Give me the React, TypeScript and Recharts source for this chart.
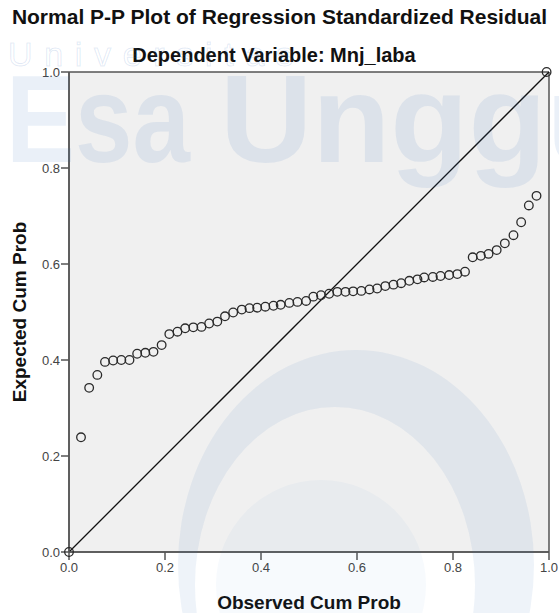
import { ScatterChart, Scatter, XAxis, YAxis, CartesianGrid, ReferenceLine, Label } from 'recharts'

// Observed / expected cumulative probabilities
const observedCumProb = [
  0, 0.025, 0.042, 0.059, 0.075, 0.092, 0.109, 0.126, 0.142, 0.159,
  0.176, 0.193, 0.209, 0.226, 0.242, 0.259, 0.276, 0.292, 0.309, 0.325,
  0.342, 0.36, 0.376, 0.392, 0.409, 0.426, 0.441, 0.459, 0.476, 0.494,
  0.509, 0.525, 0.542, 0.559, 0.576, 0.592, 0.609, 0.626, 0.642, 0.659,
  0.676, 0.692, 0.709, 0.726, 0.74, 0.758, 0.774, 0.792, 0.809, 0.825,
  0.841, 0.858, 0.874, 0.891, 0.908, 0.926, 0.942, 0.958, 0.974, 0.995,
]
const expectedCumProb = [
  0, 0.239, 0.342, 0.369, 0.396, 0.399, 0.4, 0.4, 0.413, 0.415,
  0.417, 0.431, 0.454, 0.459, 0.466, 0.468, 0.469, 0.476, 0.48, 0.491,
  0.499, 0.505, 0.508, 0.509, 0.511, 0.513, 0.515, 0.519, 0.521, 0.523,
  0.532, 0.535, 0.538, 0.542, 0.542, 0.543, 0.544, 0.547, 0.549, 0.554,
  0.557, 0.56, 0.565, 0.568, 0.572, 0.573, 0.575, 0.577, 0.579, 0.584,
  0.614, 0.617, 0.621, 0.629, 0.643, 0.66, 0.687, 0.722, 0.742, 1.0,
]
const axisTicks = [0, 0.2, 0.4, 0.6, 0.8, 1.0]
const edgeValues = [0, 1]

const chartTitle = 'Normal P-P Plot of Regression Standardized Residual'
const chartSubtitle = 'Dependent Variable: Mnj_laba'
const xTitle = 'Observed Cum Prob'
const yTitle = 'Expected Cum Prob'

const points = observedCumProb.map((x, i) => ({ x, y: expectedCumProb[i] }))

const FONT = '"Liberation Sans", Arial, sans-serif'
const tickStyle = { fontSize: 13, fill: '#444', fontFamily: FONT }

// hollow SPSS-style marker
const HollowDot = (props: any) => (
  <circle cx={props.cx} cy={props.cy} r={4.3} fill="none" stroke="#2a2a2a" strokeWidth={1.3} />
)

// faint university watermark drawn on top of the picture
function Watermark() {
  const blue = '#3f78c0'
  return (
    <svg width={559} height={613} style={{ position: 'absolute', left: 0, top: 0, pointerEvents: 'none' }}>
      <text x={8} y={66} fontSize={34} fontFamily={FONT} textLength={285} lengthAdjust="spacing" fill="none" stroke={blue} strokeOpacity={0.16} strokeWidth={1}>
        Universitas
      </text>
      <g fill={blue} fillOpacity={0.11} fontFamily={FONT} fontWeight={700} fontSize={125}>
        <text x={6} y={162} textLength={184} lengthAdjust="spacingAndGlyphs">Esa</text>
        <text x={220} y={162} textLength={440} lengthAdjust="spacingAndGlyphs">Unggul</text>
      </g>
      <path
        d="M178,565 a178,215 0 1,1 356,0 a178,215 0 1,1 -356,0 Z M195,585 a140,178 0 1,0 280,0 a140,178 0 1,0 -280,0 Z"
        fill={blue}
        fillOpacity={0.09}
        fillRule="evenodd"
      />
      <circle cx={321} cy={585} r={105} fill={blue} fillOpacity={0.04} />
    </svg>
  )
}

export default function App() {
  return (
    <div style={{ position: 'relative', width: 559, height: 613, background: '#fff', fontFamily: FONT }}>
      <style>{'body{margin:0}'}</style>

      <div style={{ position: 'absolute', top: 5, left: 0, width: 559, textAlign: 'center', fontSize: 21, fontWeight: 700, color: '#111', whiteSpace: 'nowrap' }}>
        {chartTitle}
      </div>
      <div style={{ position: 'absolute', top: 44, left: 0, width: 548, textAlign: 'center', fontSize: 20, fontWeight: 700, color: '#111', whiteSpace: 'nowrap' }}>
        {chartSubtitle}
      </div>

      <ScatterChart width={559} height={613} margin={{ top: 72, right: 10, bottom: 0, left: 0 }}>
        {/* plot background + frame */}
        <CartesianGrid fill="#f0f0f0" stroke="#555" strokeWidth={1.5} horizontalValues={edgeValues} verticalValues={edgeValues} />

        <XAxis
          type="number"
          dataKey="x"
          domain={[0, 1]}
          ticks={axisTicks}
          tickFormatter={(v: number) => v.toFixed(1)}
          tick={tickStyle}
          tickSize={8}
          tickMargin={3}
          height={61}
          stroke="#555"
          strokeWidth={1.5}
        >
          <Label value={xTitle} position="insideBottom" offset={4} style={{ fontSize: 19, fontWeight: 700, fill: '#111', fontFamily: FONT }} />
        </XAxis>

        <YAxis
          type="number"
          dataKey="y"
          domain={[0, 1]}
          ticks={axisTicks}
          tickFormatter={(v: number) => v.toFixed(1)}
          tick={tickStyle}
          tickSize={8}
          tickMargin={1}
          width={69}
          stroke="#555"
          strokeWidth={1.5}
        >
          <Label
            content={(p: any) => {
              const cx = 19
              const cy = p.viewBox.y + p.viewBox.height / 2
              return (
                <text x={cx} y={cy} transform={`rotate(-90 ${cx} ${cy})`} textAnchor="middle" dominantBaseline="central"
                  style={{ fontSize: 19, fontWeight: 700, fill: '#111', fontFamily: FONT }}>
                  {yTitle}
                </text>
              )
            }}
          />
        </YAxis>

        {/* reference diagonal */}
        <ReferenceLine segment={[{ x: 0, y: 0 }, { x: 1, y: 1 }]} stroke="#111" strokeWidth={1.3} />

        <Scatter data={points} shape={HollowDot} isAnimationActive={false} />
      </ScatterChart>

      <Watermark />
    </div>
  )
}
